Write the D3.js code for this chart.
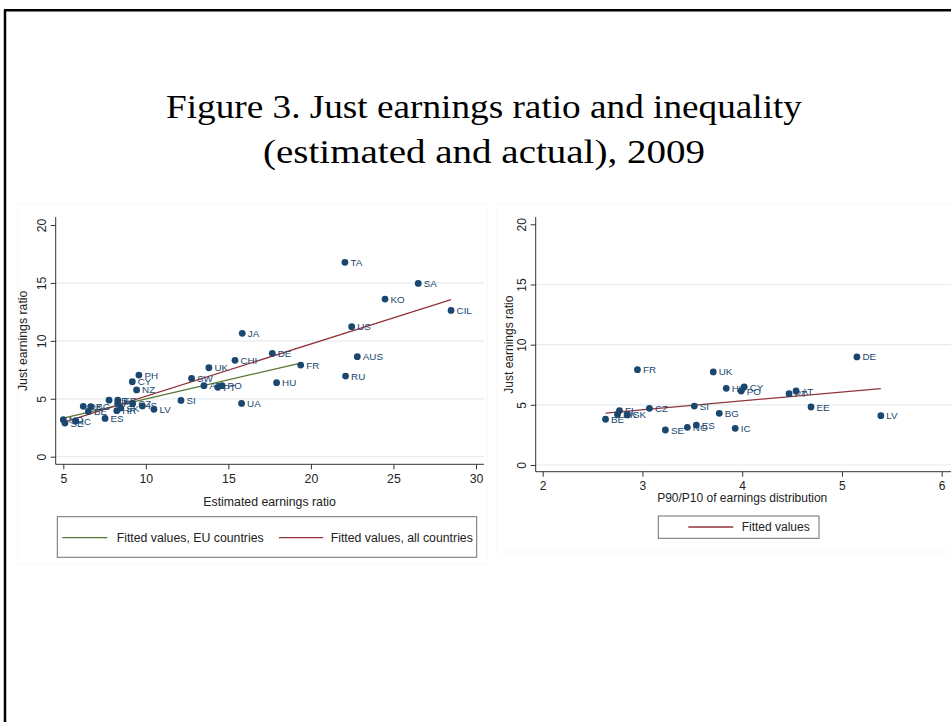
<!DOCTYPE html>
<html>
<head>
<meta charset="utf-8">
<script src="https://cdn.jsdelivr.net/npm/d3@7"></script>
<style>
  body { margin: 0; background: #fff; }
  svg { display: block; }
  text { font-family: "Liberation Sans", Arial, Helvetica, sans-serif; }
</style>
</head>
<body>
<svg id="fig" width="951" height="722"></svg>
<script>
// ---- Left panel: estimated vs just earnings ratio, all countries ----
const leftCodes = ["TA","SA","KO","CIL","US","JA","DE","AUS","CHI","FR","UK","RU","PH","SW","CY","HU","AT","PT","PO","NZ","SI","UA","LV","NO","SE","IC","DK","BG","BE","ES","AR","EE","FI","HR","SK","CZ","IS"];
const leftEstimated = [22.06,26.5,24.49,28.49,22.47,15.84,17.66,22.81,15.4,19.38,13.82,22.1,9.58,12.77,9.18,17.92,13.52,14.36,14.62,9.44,12.13,15.8,10.49,5.0,5.1,5.75,6.21,6.66,6.52,7.53,7.77,8.3,8.3,8.24,8.48,9.2,9.79];
const leftJust = [16.78,14.96,13.61,12.63,11.22,10.65,8.92,8.63,8.32,7.91,7.68,6.96,7.05,6.76,6.47,6.39,6.13,5.99,6.13,5.76,4.86,4.6,4.09,3.2,2.9,3.08,4.35,4.32,3.9,3.3,4.88,4.88,4.6,3.97,4.2,4.58,4.38];
// Countries entering the EU-only fit
const euCodes = ["FR","UK","HU","CY","PO","DE","AT","PT","EE","LV","FI","DK","SK","BE","CZ","SI","BG","SE","NO","ES","IC"];

// ---- Right panel: P90/P10 vs just earnings ratio ----
const rightCodes = ["FR","UK","HU","CY","PO","DE","AT","PT","EE","LV","FI","DK","SK","BE","CZ","SI","BG","SE","NO","ES","IC"];
const rightP9010 = [2.95,3.71,3.84,4.02,3.99,5.15,4.54,4.47,4.69,5.39,2.77,2.75,2.85,2.63,3.07,3.52,3.77,3.23,3.45,3.54,3.93];
const rightJust = [7.92,7.73,6.37,6.48,6.15,8.98,6.15,5.93,4.82,4.10,4.52,4.2,4.16,3.80,4.71,4.90,4.29,2.91,3.13,3.32,3.05];

// ---- Axis ticks ----
const yTicks = [0, 5, 10, 15, 20];
const leftXTicks = [5, 10, 15, 20, 25, 30];
const rightXTicks = [2, 3, 4, 5, 6];

const NAVY = "#1a476f", MAROON = "#90353b", GREEN = "#55752f", GRID = "#e4ecf0";

const svg = d3.select("#fig");

// Slide frame (left and top rules)
svg.append("line").attr("x1", 5).attr("y1", 10).attr("x2", 5).attr("y2", 722)
  .attr("stroke", "#000").attr("stroke-width", 2.5);
svg.append("line").attr("x1", 4).attr("y1", 10.3).attr("x2", 951).attr("y2", 10.3)
  .attr("stroke", "#000").attr("stroke-width", 2.5);

// Very faint outlines of the two graph regions
svg.append("rect").attr("x", 18).attr("y", 204).attr("width", 469).attr("height", 360)
  .attr("fill", "none").attr("stroke", "#f5f7f8").attr("stroke-width", 1);
svg.append("rect").attr("x", 497).attr("y", 204).attr("width", 460).attr("height", 348)
  .attr("fill", "none").attr("stroke", "#f5f7f8").attr("stroke-width", 1);

// Title
const titleLines = ["Figure 3. Just earnings ratio and inequality", "(estimated and actual), 2009"];
const titleWidths = [636, 442];
titleLines.forEach((t, i) => {
  svg.append("text")
    .attr("x", 484).attr("y", 118 + i * 45)
    .attr("text-anchor", "middle")
    .style("font-family", "'Liberation Serif', 'Times New Roman', serif")
    .style("font-size", "33px")
    .attr("textLength", titleWidths[i])
    .attr("lengthAdjust", "spacingAndGlyphs")
    .attr("fill", "#000")
    .text(t);
});

// Ordinary least squares fit, drawn over the x range of its data
function olsLine(xs, ys) {
  const n = xs.length, mx = d3.mean(xs), my = d3.mean(ys);
  let sxy = 0, sxx = 0;
  for (let i = 0; i < n; i++) { sxy += (xs[i] - mx) * (ys[i] - my); sxx += (xs[i] - mx) ** 2; }
  const b = sxy / sxx, a = my - b * mx;
  const [x0, x1] = d3.extent(xs);
  return [[x0, a + b * x0], [x1, a + b * x1]];
}

function panel(cfg) {
  const g = svg.append("g");
  const x = d3.scaleLinear().domain(cfg.xDomain).range(cfg.xRange);
  const y = d3.scaleLinear().domain([0, 20]).range(cfg.yRange);

  // gridlines
  g.selectAll("line.grid").data(yTicks.filter(v => v < 20)).join("line")
    .attr("x1", cfg.axisX).attr("x2", cfg.gridRight)
    .attr("y1", d => y(d)).attr("y2", d => y(d))
    .attr("stroke", GRID).attr("stroke-width", 1.2);

  // axis lines
  g.append("line").attr("x1", cfg.axisX).attr("x2", cfg.axisX)
    .attr("y1", cfg.axisY).attr("y2", cfg.axisTop).attr("stroke", "#333").attr("stroke-width", 1);
  g.append("line").attr("x1", cfg.axisX).attr("x2", cfg.gridRight)
    .attr("y1", cfg.axisY).attr("y2", cfg.axisY).attr("stroke", "#333").attr("stroke-width", 1);

  // y axis
  const ya = g.append("g").attr("transform", `translate(${cfg.axisX},0)`)
    .call(d3.axisLeft(y).tickValues(yTicks).tickSize(5).tickFormat(d3.format("d")));
  ya.select(".domain").remove();
  ya.selectAll("line").attr("stroke", "#333");
  ya.selectAll("text")
    .attr("x", 0).attr("dy", "0.35em")
    .attr("text-anchor", "middle")
    .attr("transform", "translate(-14,0) rotate(-90)")
    .style("font-size", cfg.fs + "px").attr("fill", "#222")
    .style("font-family", "'Liberation Sans', Arial, sans-serif");

  // x axis
  const xa = g.append("g").attr("transform", `translate(0,${cfg.axisY})`)
    .call(d3.axisBottom(x).tickValues(cfg.xTicks).tickSize(5).tickPadding(4.5).tickFormat(d3.format("d")));
  xa.select(".domain").remove();
  xa.selectAll("line").attr("stroke", "#333");
  xa.selectAll("text").style("font-size", cfg.fs + "px").attr("fill", "#222")
    .style("font-family", "'Liberation Sans', Arial, sans-serif");

  // axis titles
  g.append("text").attr("x", d3.mean(cfg.xRange)).attr("y", cfg.xTitleY)
    .attr("text-anchor", "middle").style("font-size", cfg.fs + "px").attr("fill", "#222")
    .text(cfg.xTitle);
  g.append("text").attr("transform", `translate(${cfg.yTitleX},${d3.mean(cfg.yRange)}) rotate(-90)`)
    .attr("dy", "0.35em").attr("text-anchor", "middle").style("font-size", cfg.fs + "px").attr("fill", "#222")
    .text("Just earnings ratio");

  // fitted lines
  const line = d3.line().x(d => x(d[0])).y(d => y(d[1]));
  cfg.fits.forEach(f => {
    g.append("path").attr("d", line(f.pts)).attr("fill", "none")
      .attr("stroke", f.color).attr("stroke-width", 1.3);
  });

  // markers and labels
  const pts = cfg.codes.map((c, i) => ({ c, vx: cfg.xs[i], vy: cfg.ys[i] }));
  g.selectAll("circle.pt").data(pts).join("circle")
    .attr("cx", d => x(d.vx)).attr("cy", d => y(d.vy)).attr("r", 3.4).attr("fill", NAVY);
  g.selectAll("text.lab").data(pts).join("text")
    .attr("x", d => x(d.vx) + 5.5).attr("y", d => y(d.vy)).attr("dy", "0.36em")
    .style("font-size", "9.8px").attr("fill", NAVY).text(d => d.c);

  // legend
  const L = cfg.legend;
  g.append("rect").attr("x", L.x).attr("y", L.y).attr("width", L.w).attr("height", L.h)
    .attr("fill", "#fff").attr("stroke", "#6f6f6f").attr("stroke-width", 1);
  L.items.forEach(it => {
    g.append("line").attr("x1", it.x1).attr("x2", it.x2).attr("y1", L.cy).attr("y2", L.cy)
      .attr("stroke", it.color).attr("stroke-width", 1.3);
    g.append("text").attr("x", it.tx).attr("y", L.cy).attr("dy", "0.36em")
      .style("font-size", cfg.fs + "px").attr("fill", "#222").text(it.label);
  });
}

// Left panel
const euIdx = leftCodes.map((c, i) => i).filter(i => euCodes.includes(leftCodes[i]));
panel({
  xDomain: [5, 30], xRange: [63.3, 476], yRange: [456.7, 225],
  axisX: 55.7, axisY: 464.3, axisTop: 217, gridRight: 484,
  xTicks: leftXTicks, fs: 12.3,
  xTitle: "Estimated earnings ratio", xTitleY: 505.5, yTitleX: 23,
  codes: leftCodes, xs: leftEstimated, ys: leftJust,
  fits: [
    { color: GREEN, pts: olsLine(euIdx.map(i => leftEstimated[i]), euIdx.map(i => leftJust[i])) },
    { color: MAROON, pts: olsLine(leftEstimated, leftJust) }
  ],
  legend: {
    x: 57.3, y: 516.7, w: 419.4, h: 40.6, cy: 537.7,
    items: [
      { x1: 62.3, x2: 107.3, tx: 116.7, color: GREEN, label: "Fitted values, EU countries" },
      { x1: 279, x2: 323.3, tx: 330.7, color: MAROON, label: "Fitted values, all countries" }
    ]
  }
});

// Right panel
panel({
  xDomain: [2, 6], xRange: [542.7, 941.7], yRange: [465, 224.3],
  axisX: 535.7, axisY: 471.7, axisTop: 217, gridRight: 951,
  xTicks: rightXTicks, fs: 12,
  xTitle: "P90/P10 of earnings distribution", xTitleY: 502, yTitleX: 508.5,
  codes: rightCodes, xs: rightP9010, ys: rightJust,
  fits: [{ color: MAROON, pts: olsLine(rightP9010, rightJust) }],
  legend: {
    x: 658.3, y: 516, w: 160.7, h: 22.3, cy: 527,
    items: [{ x1: 688.3, x2: 733.3, tx: 741.7, color: MAROON, label: "Fitted values" }]
  }
});
</script>
</body>
</html>
